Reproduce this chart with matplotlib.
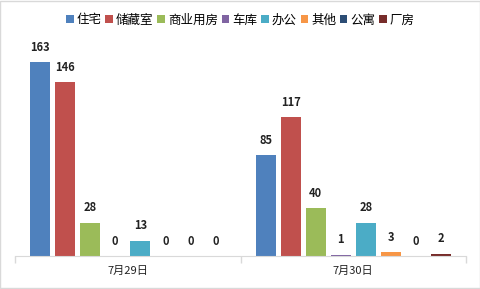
import matplotlib
matplotlib.use("Agg")
import matplotlib.pyplot as plt
import numpy as np
from matplotlib.patches import Rectangle

plt.rcParams['font.family'] = ['Noto Sans CJK SC', 'DejaVu Sans']

dates = ['7月29日', '7月30日']
types = ['住宅', '储藏室', '商业用房', '车库', '办公', '其他', '公寓', '厂房']
values = {
    '住宅': [163, 85],
    '储藏室': [146, 117],
    '商业用房': [28, 40],
    '车库': [0, 1],
    '办公': [13, 28],
    '其他': [0, 3],
    '公寓': [0, 0],
    '厂房': [0, 2],
}
colors = ['#4F81BD', '#C0504D', '#9BBB59', '#8064A2', '#4BACC6', '#F79646', '#2C4D75', '#772C2A']

fig = plt.figure(figsize=(4.81, 2.89), dpi=100)
fig.patches.append(Rectangle((0.001, 0.002), 0.997, 0.995, transform=fig.transFigure,
                             fill=False, edgecolor='#D9D9D9', linewidth=1))
ax = fig.add_axes([15/481, 33/289, 451/481, 226/289])

x = np.arange(len(dates))
step = 1/9
width = 20/225
for i, t in enumerate(types):
    pos = x + (i - 3.5) * step
    bars = ax.bar(pos, values[t], width=width, color=colors[i], label=t)
    for p, v in zip(pos, values[t]):
        ax.text(p, v + 7, str(v), ha='center', va='bottom', fontsize=8,
                fontweight='bold', color='#222222')

ax.set_xlim(-0.5, 1.5)
ax.set_ylim(0, 190)
ax.set_yticks([])
for s in ['left', 'right', 'top']:
    ax.spines[s].set_visible(False)
ax.spines['bottom'].set_color('#D9D9D9')
ax.set_xticks(x)
ax.set_xticklabels(dates, fontsize=8)
ax.tick_params(axis='x', which='major', length=0, pad=7, colors='#222222')
ax.set_xticks([-0.5, 0.5, 1.5], minor=True)
ax.tick_params(axis='x', which='minor', length=5, color='#D9D9D9', width=1)

fig.legend(loc='center', bbox_to_anchor=(0.5, 1 - 20/289), ncol=8, frameon=False,
           fontsize=9, handlelength=0.6, handleheight=0.6, handletextpad=0.25,
           columnspacing=0.3)

fig.savefig('out.png', dpi=100)
